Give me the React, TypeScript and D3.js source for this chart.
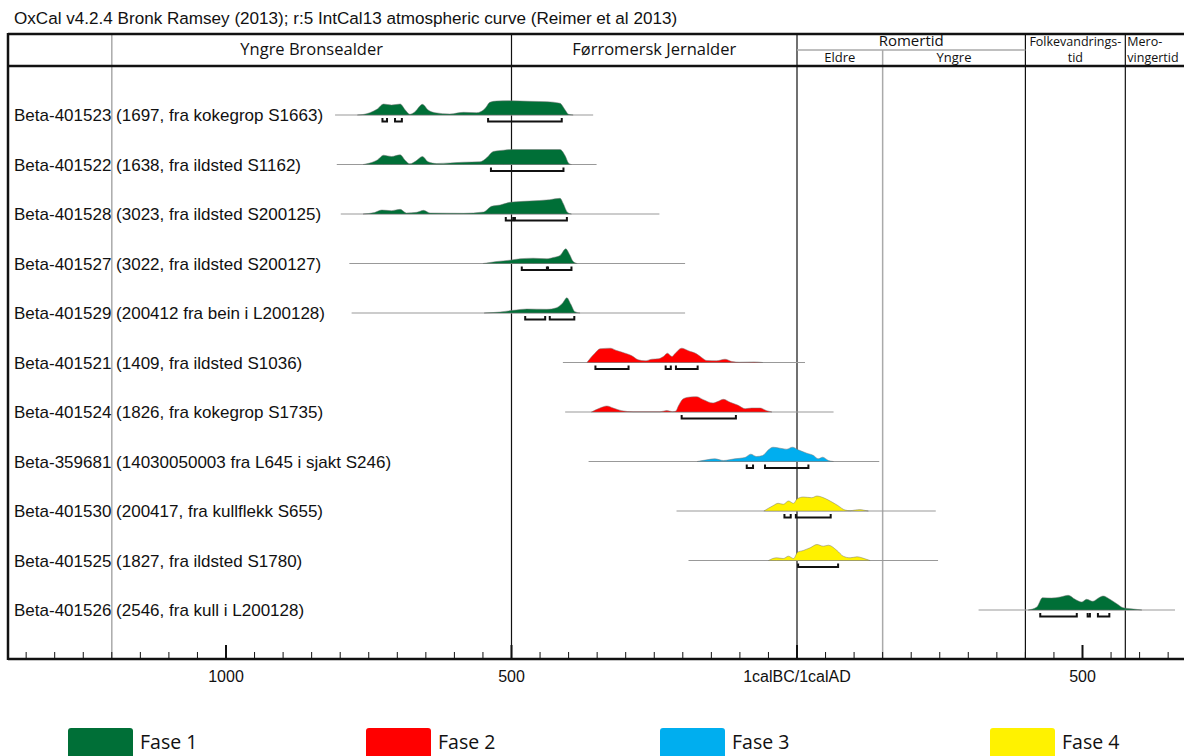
import * as d3 from 'd3'

// OxCal multiplot (years: BC negative, AD positive)
const TITLE = 'OxCal v4.2.4 Bronk Ramsey (2013); r:5 IntCal13 atmospheric curve (Reimer et al 2013)'

const rowLabels = [
  'Beta-401523 (1697, fra kokegrop S1663)',
  'Beta-401522 (1638, fra ildsted S1162)',
  'Beta-401528 (3023, fra ildsted S200125)',
  'Beta-401527 (3022, fra ildsted S200127)',
  'Beta-401529 (200412 fra bein i L200128)',
  'Beta-401521 (1409, fra ildsted S1036)',
  'Beta-401524 (1826, fra kokegrop S1735)',
  'Beta-359681 (14030050003 fra L645 i sjakt S246)',
  'Beta-401530 (200417, fra kullflekk S655)',
  'Beta-401525 (1827, fra ildsted S1780)',
  'Beta-401526 (2546, fra kull i L200128)',
]

const rowPhase = [1, 1, 1, 1, 1, 2, 2, 3, 4, 4, 1]

// extent of the grey baseline for each sample
const rowExtent = [
  [-809, -357], [-806, -351], [-799, -241], [-784, -196], [-780, -196],
  [-410, 14], [-406, 64], [-365, 144], [-211, 243], [-190, 247], [318, 662],
]

// posterior densities [year, relative probability]
const d401523 = [[-770, 0], [-760, 0.5], [-748, 2.3], [-735, 6], [-724, 11], [-710, 10], [-695, 11], [-686, 5], [-678, 0.7], [-669, 3.3], [-656, 10.7], [-646, 5], [-634, 2.3], [-608, 1], [-584, 2.7], [-561, 2.3], [-546, 6.7], [-538, 12.7], [-526, 14], [-503, 14.3], [-468, 13.7], [-438, 13.3], [-415, 11.7], [-406, 5], [-400, 0.7], [-392, 0]]
const d401522 = [[-760, 0], [-748, 1.5], [-735, 4.5], [-724, 9.3], [-710, 8], [-695, 9.7], [-686, 4], [-678, 0.7], [-667, 3.7], [-656, 8], [-646, 2.7], [-631, 1], [-584, 2.3], [-555, 2.7], [-543, 7], [-532, 13], [-514, 14.3], [-497, 15], [-415, 15], [-406, 8.7], [-400, 1.3], [-395, 0]]
const d401528 = [[-760, 0], [-740, 1.5], [-727, 4], [-710, 3.3], [-695, 4.7], [-684, 1], [-666, 1.7], [-654, 3.7], [-643, 1], [-584, 0.7], [-549, 2], [-535, 7.7], [-520, 9], [-503, 11.7], [-491, 12.3], [-468, 13], [-433, 14.3], [-415, 15.7], [-409, 10], [-402, 1.7], [-395, 0]]
const d401527 = [[-550, 0], [-526, 2], [-503, 3.3], [-485, 4.7], [-462, 5.3], [-438, 4.7], [-427, 6], [-415, 8], [-405, 14.7], [-398, 8.7], [-392, 2], [-385, 0]]
const d401529 = [[-548, 0], [-520, 1], [-497, 2.7], [-473, 4], [-438, 3.7], [-421, 5.3], [-410, 10.3], [-403, 15.3], [-396, 8.7], [-389, 1.3], [-380, 0]]
const d401521 = [[-368, 0], [-354, 9.3], [-345, 13.7], [-327, 14.3], [-316, 12], [-301, 9.3], [-290, 7], [-278, 2.7], [-266, 1.7], [-254, 3.3], [-243, 3.7], [-234, 6], [-227, 9.3], [-219, 6], [-214, 8.7], [-202, 14.3], [-190, 11.7], [-176, 8.7], [-167, 5], [-158, 2], [-141, 1.7], [-126, 3.3], [-114, 1], [-100, 0.3], [-75, 0.6], [-60, 0]]
const d401524 = [[-360, 0], [-345, 4], [-333, 6], [-322, 4], [-307, 1.3], [-287, 0.2], [-240, 0.2], [-228, 1.5], [-218, 0.3], [-212, 1], [-208, 5.7], [-199, 13.3], [-187, 15], [-176, 15.3], [-164, 12.3], [-147, 9], [-138, 10.7], [-129, 12.7], [-117, 9.7], [-103, 6.7], [-91, 3.3], [-79, 4], [-65, 4], [-53, 1.3], [-44, 0]]
const d359681 = [[-175, 0], [-158, 1.7], [-144, 2.7], [-129, 1], [-109, 2.7], [-91, 4], [-81, 7.3], [-71, 5], [-60, 6], [-50, 11.7], [-42, 14.3], [-30, 13.3], [-18, 12.3], [-8, 14.3], [2, 11.7], [17, 8.3], [29, 6], [37, 2.7], [45, 4.3], [55, 1], [64, 0]]
const d401530 = [[-58, 0], [-42, 5.3], [-33, 7.7], [-24, 6.7], [-15, 10], [-6, 7.7], [0, 12], [11, 14], [26, 13.3], [35, 15], [43, 14], [58, 10], [72, 5.3], [84, 1], [93, 0.3], [102, 1], [110, 1.4], [119, 0.6], [125, 0]]
const d401525 = [[-50, 0], [-36, 2.7], [-24, 2], [-15, 4.3], [-6, 2], [1, 8.3], [11, 10], [23, 12.7], [35, 16], [46, 14.3], [55, 15.3], [70, 10], [81, 4.3], [93, 2.7], [105, 3.7], [119, 1.7], [128, 0]]
const d401526 = [[405, 0], [420, 3], [430, 12.3], [446, 12], [461, 13], [475, 14.7], [487, 10.7], [499, 8], [507, 10.7], [518, 8.7], [528, 12], [536, 14], [548, 10.7], [560, 6.3], [571, 2.3], [589, 1], [604, 0]]

const rowDensity = [d401523, d401522, d401528, d401527, d401529, d401521, d401524, d359681, d401530, d401525, d401526]

// 95.4% ranges
const rowRanges = [
  [[-726, -718], [-704, -692], [-541, -412]],
  [[-536, -409]],
  [[-510, -497], [-494, -403]],
  [[-482, -438], [-436, -395]],
  [[-476, -441], [-433, -390]],
  [[-353, -295], [-230, -221], [-212, -174]],
  [[-202, -107]],
  [[-88, -77], [-56, 20]],
  [[-22, -11], [-2, 59]],
  [[2, 72]],
  [[426, 490], [509, 513], [527, 547]],
]

// chronology header
const periods = [
  { name: 'Yngre Bronsealder', from: -1200, to: -500 },
  { name: 'Førromersk Jernalder', from: -500, to: 0 },
]
const romertid = { name: 'Romertid', from: 0, to: 400 }
const romerSub = [
  { name: 'Eldre', from: 0, to: 150 },
  { name: 'Yngre', from: 150, to: 400 },
]
const folkevandring = { lines: ['Folkevandrings-', 'tid'], from: 400, to: 575 }
const merovinger = { lines: ['Mero-', 'vingertid'], from: 575 }

const axisLabelYears = [-1000, -500, 0, 500]
const axisLabelText = ['1000', '500', '1calBC/1calAD', '500']

const phaseNames = ['Fase 1', 'Fase 2', 'Fase 3', 'Fase 4']
const PHASE_COLORS = ['#006f37', '#ff0000', '#00aeef', '#fff200']

export default function App() {
  const W = 1184
  const H = 756
  const left = 8
  const top = 34
  const headMid = 50
  const headBottom = 66
  const bottom = 659

  const x = d3.scaleLinear().domain([-1000, 500]).range([226, 1082.5])
  const y = d3.scalePoint().domain(rowLabels).range([115, 610])
  const h = d3.scaleLinear().domain([0, 16]).range([0, 16])

  const area = d3.area()
    .x((d) => x(d[0]))
    .y0(0)
    .y1((d) => -h(d[1]))
    .curve(d3.curveMonotoneX)

  const ticks = d3.range(-1350, 700, 50)
  const arial = 'Arial, "Liberation Sans", sans-serif'
  const myriad = '"Open Sans", "Noto Sans", sans-serif'

  return (
    <svg width={W} height={H} style={{ position: 'absolute', left: 0, top: 0, background: '#fff' }}>
      <text x={14} y={24} fontFamily={arial} fontSize={17.1} fill="#111">{TITLE}</text>

      {/* period boundaries */}
      <line x1={x(-1200)} x2={x(-1200)} y1={top} y2={bottom} stroke="#aaa" strokeWidth={1.5} />
      <line x1={x(150)} x2={x(150)} y1={headMid} y2={bottom} stroke="#aaa" strokeWidth={1.5} />
      {[-500, 0, 400, 575].map((yr) => (
        <line key={yr} x1={x(yr)} x2={x(yr)} y1={top} y2={bottom} stroke="#111" strokeWidth={1.2} />
      ))}

      {/* header */}
      {periods.map((p) => (
        <text key={p.name} x={(x(p.from) + x(p.to)) / 2} y={55} textAnchor="middle" fontFamily={myriad} fontSize={16.5} fill="#111">{p.name}</text>
      ))}
      <text x={(x(romertid.from) + x(romertid.to)) / 2} y={46} textAnchor="middle" fontFamily={myriad} fontSize={15} fill="#111">{romertid.name}</text>
      <line x1={x(romertid.from)} x2={x(romertid.to)} y1={headMid} y2={headMid} stroke="#aaa" strokeWidth={1.5} />
      {romerSub.map((p) => (
        <text key={p.name} x={(x(p.from) + x(p.to)) / 2} y={62} textAnchor="middle" fontFamily={myriad} fontSize={13} fill="#111">{p.name}</text>
      ))}
      {folkevandring.lines.map((t, i) => (
        <text key={t} x={(x(folkevandring.from) + x(folkevandring.to)) / 2} y={46 + i * 16} textAnchor="middle" fontFamily={myriad} fontSize={12.5} fill="#111">{t}</text>
      ))}
      {merovinger.lines.map((t, i) => (
        <text key={t} x={x(merovinger.from) + 2} y={46 + i * 16} fontFamily={myriad} fontSize={12.5} fill="#111">{t}</text>
      ))}

      {/* frame */}
      <line x1={left} x2={W} y1={top} y2={top} stroke="#111" strokeWidth={2.5} />
      <line x1={left} x2={W} y1={headBottom} y2={headBottom} stroke="#111" strokeWidth={2.5} />
      <line x1={left} x2={left} y1={top - 1} y2={bottom + 1} stroke="#111" strokeWidth={2.5} />
      <line x1={left} x2={W} y1={bottom} y2={bottom} stroke="#111" strokeWidth={2.5} />

      {/* rows */}
      {rowLabels.map((label, i) => {
        const by = y(label) ?? 0
        const color = PHASE_COLORS[rowPhase[i] - 1]
        return (
          <g key={label}>
            <text x={14} y={by} dy="0.36em" fontFamily={arial} fontSize={17} fill="#111">{label}</text>
            <line x1={x(rowExtent[i][0])} x2={x(rowExtent[i][1])} y1={by} y2={by} stroke="#999" strokeWidth={1.2} />
            <path d={area(rowDensity[i]) ?? ''} transform={`translate(0,${by})`} fill={color} stroke="#777" strokeWidth={0.5} />
            {rowRanges[i].map(([a, b]) => (
              <path key={a} d={`M${x(a)},${by + 3}V${by + 6.5}H${x(b)}V${by + 3}`} fill="none" stroke="#111" strokeWidth={2} />
            ))}
          </g>
        )
      })}

      {/* axis */}
      {ticks.map((t) => {
        const major = axisLabelYears.includes(t)
        return (
          <line key={t} x1={x(t)} x2={x(t)} y1={bottom} y2={bottom - (major ? 14 : 7)} stroke="#111" strokeWidth={major ? 2 : 1} />
        )
      })}
      {axisLabelYears.map((yr, i) => (
        <text key={i} x={x(yr)} y={682} textAnchor="middle" fontFamily={arial} fontSize={16} fill="#111">{axisLabelText[i]}</text>
      ))}

      {/* legend */}
      {phaseNames.map((name, i) => {
        const lx = [68, 366, 660, 990][i]
        return (
          <g key={name}>
            <rect x={lx} y={728} width={65} height={40} rx={3} fill={PHASE_COLORS[i]} />
            <text x={lx + 72} y={749} fontFamily={myriad} fontSize={19.5} fill="#111">{name}</text>
          </g>
        )
      })}
    </svg>
  )
}
